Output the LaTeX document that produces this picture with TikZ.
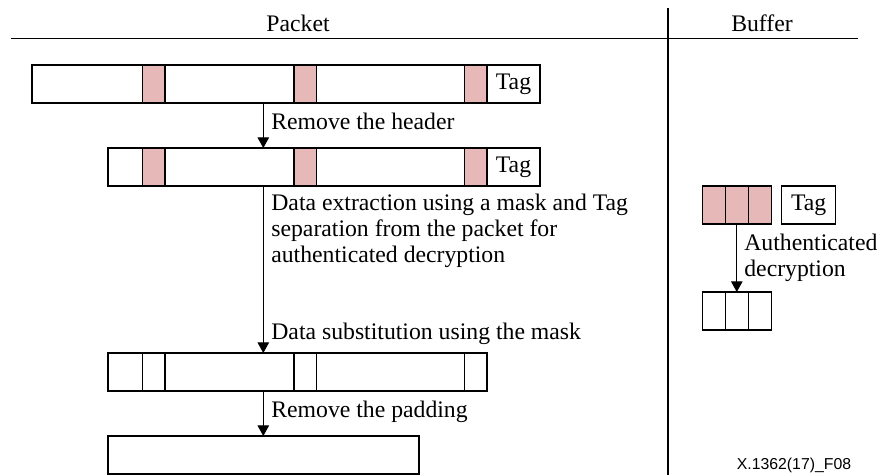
\documentclass[tikz,border=0pt]{standalone}
\usepackage{fontspec}
\setmainfont{Liberation Serif}
\newfontfamily\figsans{Liberation Sans}
\usepackage{tikz}
\usetikzlibrary{arrows.meta}
\definecolor{maskred}{RGB}{230,184,183}
\tikzstyle{box}=[draw, line width=0.8pt, inner sep=0, outer sep=0, minimum height=0.76cm, anchor=north west]
\tikzstyle{cell}=[box, minimum width=0.45cm]
\tikzstyle{cellred}=[cell, fill=maskred]
\tikzstyle{bufcell}=[box, minimum width=0.46cm]
\tikzstyle{bufred}=[bufcell, fill=maskred]
\tikzstyle{tagcell}=[box, minimum width=1.06cm]
\tikzstyle{arrow}=[draw=black, line width=0.6pt, -{Triangle[length=6pt,width=6.5pt]}]
\tikzstyle{note}=[anchor=base west, inner sep=0, align=left]
\tikzstyle{title}=[anchor=base, inner sep=0]

\begin{document}
\begin{tikzpicture}[x=0.02cm, y=-0.02cm, font=\fontsize{13.5}{15}\selectfont]
		   \useasboundingbox (0,0) rectangle (878,475);
		   \begin{scope}[line width=0.7pt]
			   \draw (11,38.5) -- (858,38.5);
			   \draw (668,8) -- (668,475);
			   \node (packet) at (298,32) [title] {Packet};
			   \node (buffer) at (762,32) [title] {Buffer};
		   \end{scope}
		   \begin{scope}
			   % packet with header
			   \node (pkt1) at (32,65) [box, minimum width=10.16cm] {};
			   \node (m11) at (142.7,65) [cellred] {};
			   \node (m12) at (294,65) [cellred] {};
			   \node (m13) at (464.5,65) [cellred] {};
			   \node (t1) at (487,65) [tagcell] {Tag};
			   % header removed
			   \node (pkt2) at (108,148) [box, minimum width=8.64cm] {};
			   \node (m21) at (142.7,148) [cellred] {};
			   \node (m22) at (294,148) [cellred] {};
			   \node (m23) at (464.5,148) [cellred] {};
			   \node (t2) at (487,148) [tagcell] {Tag};
			   % data substituted
			   \node (pkt3) at (108,353) [box, minimum width=7.58cm] {};
			   \node (m31) at (142.7,353) [cell] {};
			   \node (m32) at (294,353) [cell] {};
			   \node (m33) at (464.5,353) [cell] {};
			   % padding removed
			   \node (pkt4) at (108,436) [box, minimum width=6.22cm] {};
		   \end{scope}
		   \begin{scope}
			   % buffer
			   \node (b1) at (702.3,186) [bufred] {};
			   \node (b2) at (725.3,186) [bufred] {};
			   \node (b3) at (748.3,186) [bufred] {};
			   \node (bt) at (781.7,186) [box, minimum width=1.08cm] {Tag};
			   \node (d1) at (702.3,292) [bufcell] {};
			   \node (d2) at (725.3,292) [bufcell] {};
			   \node (d3) at (748.3,292) [bufcell] {};
		   \end{scope}
		   \begin{scope}
			   \coordinate (ax) at (263.3,0);
			   \draw [arrow] (pkt1.south -| ax) -- (pkt2.north -| ax);
			   \draw [arrow] (pkt2.south -| ax) -- (pkt3.north -| ax);
			   \draw [arrow] (pkt3.south -| ax) -- (pkt4.north -| ax);
			   \draw [arrow] (b2.south) -- (d2.north);
		   \end{scope}
		   \begin{scope}
			   \node (s1) at (271,130) [note] {Remove the header};
			   \node (s2) at (271,263) [note] {Data extraction using a mask and Tag\\separation from the packet for\\authenticated decryption};
			   \node (s3) at (271,340) [note] {Data substitution using the mask};
			   \node (s4) at (271,418) [note] {Remove the padding};
			   \node (s5) at (744,277) [note] {Authenticated\\decryption};
			   \node (fig) at (794,470) [title, font=\figsans\fontsize{9}{11}\selectfont] {X.1362(17)\_F08};
		   \end{scope}
	   \end{tikzpicture}
\end{document}
